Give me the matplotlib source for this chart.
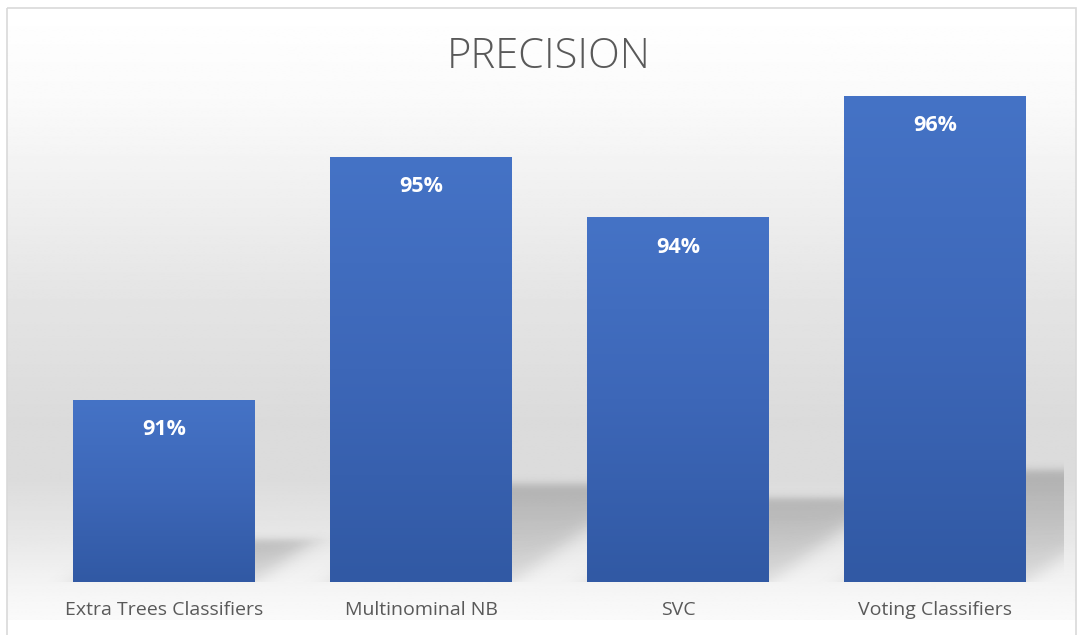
import numpy as np
import matplotlib.pyplot as plt
from matplotlib.patches import Rectangle
from matplotlib.colors import LinearSegmentedColormap

# data
categories = ['Extra Trees Classifiers', 'Multinominal NB', 'SVC', 'Voting Classifiers']
precision = [91, 95, 94, 96]
value_labels = ['91%', '95%', '94%', '96%']

ymin, ymax = 88, 97
W, H = 1079, 635

fig = plt.figure(figsize=(W / 100, H / 100), dpi=100)

# background panel with vertical gradient
bg = fig.add_axes([0, 0, 1, 1])
bg.set_xlim(0, W)
bg.set_ylim(H, 0)
bg.axis('off')
ys = np.linspace(8, 620, 400)
gray = np.interp(ys, [8, 100, 200, 300, 420, 480, 540, 585, 620],
                 [255, 250, 239, 228, 219, 220, 232, 244, 250]) / 255
bg.imshow(np.repeat(gray[:, None], 2, axis=1), cmap='gray', vmin=0, vmax=1,
          extent=[7, 1076, 620, 8], aspect='auto', interpolation='bilinear')
bg.add_patch(Rectangle((7, 8), 1069, 640, fill=False, edgecolor='#d9d9d9', lw=1.2))

# main axes
ax_w, ax_h = 1028, 547
ax = fig.add_axes([35.5 / W, 53 / H, ax_w / W, ax_h / H])
ax.patch.set_alpha(0)
x = np.arange(len(categories))
width = 0.708
heights = np.array(precision) - ymin
bars = ax.bar(x, heights, width=width, bottom=ymin, color='none', zorder=3)

bar_cmap = LinearSegmentedColormap.from_list('barblue', ['#3159a4', '#3d67b8', '#4573c6'])
grad = np.linspace(1, 0, 200)[:, None]

px_per_y = ax_h / (ymax - ymin)
px_per_x = ax_w / (x[-1] + 1)

def sig(z):
    return 1 / (1 + np.exp(-z))

# blurred perspective shadows, computed in pixel space of the axes
X, Y = np.meshgrid(np.arange(ax_w) + 0.5, np.arange(ax_h) + 0.5)
shadow = np.zeros_like(X)
k = np.sqrt(1 + 1.4 ** 2)

for b, v in zip(bars, precision):
    L = b.get_x()
    R = L + b.get_width()
    im = ax.imshow(grad, cmap=bar_cmap, extent=[L, R, ymin, v], aspect='auto', zorder=3)
    im.set_clip_path(b)

    Lp = (L + 0.5) * px_per_x
    Rp = (R + 0.5) * px_per_x
    sp = 0.23 * (v - ymin) * px_per_y
    d_top = sp - Y
    d_right = (Rp + 1.4 * Y - X) / k
    d_left = (X - Lp - 1.4 * Y) / k
    a = sig(d_top / 2.5) * sig(d_right / 5) * sig(d_left / 5) * (0.5 + 0.5 * np.clip(Y / sp, 0, 1))
    shadow = np.maximum(shadow, a)

rgba = np.zeros((ax_h, ax_w, 4))
rgba[..., 3] = 0.2 * shadow
ax.imshow(rgba, extent=[-0.5, x[-1] + 0.5, ymin, ymax], origin='lower',
          aspect='auto', zorder=1, interpolation='bilinear')

for xi, v, lab in zip(x, precision, value_labels):
    ax.annotate(lab, (xi, v), xytext=(0, -14), textcoords='offset points',
                ha='center', va='top', color='white', fontweight='bold',
                fontsize=15.5, fontfamily='Open Sans', zorder=5)

ax.set_xlim(-0.5, x[-1] + 0.5)
ax.set_ylim(ymin, ymax)
ax.set_xticks(x, categories)
ax.set_yticks([])
ax.tick_params(axis='x', length=0, pad=14, labelsize=14, labelcolor='#595959')
for lbl in ax.get_xticklabels():
    lbl.set_fontfamily('Open Sans')
for sp_ in ax.spines.values():
    sp_.set_visible(False)

fig.text(549 / W, 1 - 57 / H, 'PRECISION', ha='center', va='center', fontsize=30,
         color='#595959', fontfamily='Open Sans', fontweight='light')

fig.savefig('out.png', dpi=100)
